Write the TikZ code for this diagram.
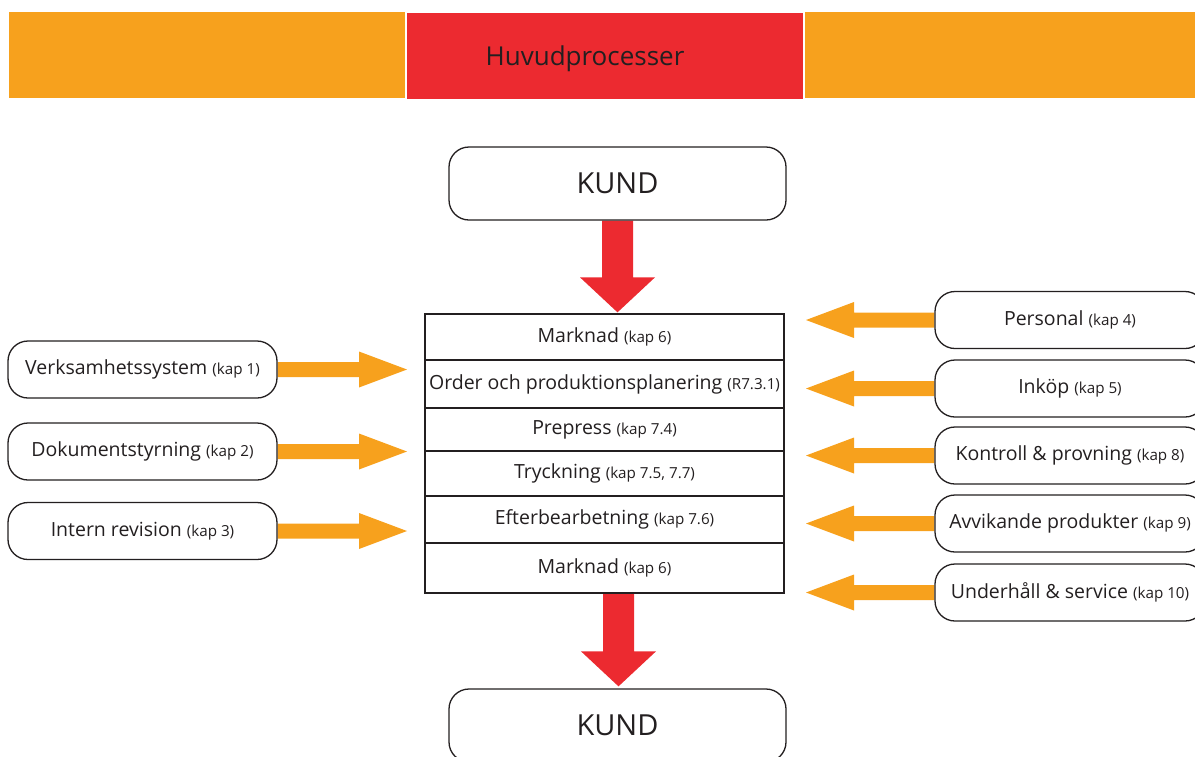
\documentclass[tikz,border=0pt]{standalone}
\usepackage{fontspec}
\setmainfont{Open Sans}
\usetikzlibrary{calc,backgrounds}
\definecolor{orangec}{HTML}{F7A11D}
\definecolor{redc}{HTML}{EC2A30}
\definecolor{ink}{HTML}{231F20}
\newcommand\kap[1]{{\fontsize{15.2}{17}\selectfont #1}}
\newcommand\mainsz{\fontsize{19.5}{22}\selectfont}
% horizontal block arrow: #1 start, #2 tip, #3 sign (- right, + left), #4 colour
\newcommand\hblock[4]{%
  \fill[#4] let \p1=(#1), \p2=(#2) in
   (\x1,\y1+7.5pt) -- (\x2#348pt,\y1+7.5pt) -- (\x2#348pt,\y1+18pt) -- (\x2,\y1)
   -- (\x2#348pt,\y1-18pt) -- (\x2#348pt,\y1-7.5pt) -- (\x1,\y1-7.5pt) -- cycle;}
% vertical block arrow downwards: #1 start, #2 tip
\newcommand\vblock[2]{%
  \fill[redc] let \p1=(#1), \p2=(#2) in
   (\x1-15.5pt,\y1) -- (\x1-15.5pt,\y2+35pt) -- (\x1-37.5pt,\y2+35pt) -- (\x1,\y2)
   -- (\x1+37.5pt,\y2+35pt) -- (\x1+15.5pt,\y2+35pt) -- (\x1+15.5pt,\y1) -- cycle;}
\tikzset{
  rbox/.style={draw=ink, line width=1.3pt, rounded corners=20pt, minimum width=269pt,
    minimum height=57pt, inner sep=0pt, fill=white, font=\mainsz},
  kund/.style={rbox, minimum width=337pt, minimum height=73pt, font=\fontsize{29}{34}\selectfont},
  row/.style={draw=ink, line width=1.3pt, minimum width=359pt, inner sep=0pt, fill=white, font=\mainsz},
}
\begin{document}
\begin{tikzpicture}[x=1pt,y=-1pt,text=ink]
\useasboundingbox (0,0) rectangle (1195,756);
\clip (0,0) rectangle (1195,756);
% header band
\fill[orangec] (9,12) rectangle (405,98);
\fill[redc] (407,13) rectangle (803,99);
\fill[orangec] (805,12) rectangle (1195,98);
\node[font=\fontsize{26}{30}\selectfont] (title) at (585,59) {Huvudprocesser};
% customer
\node[kund] (k1) at (617.5,183.5) {KUND};
\node[kund] (k2) at (617.5,725.5) {KUND};
% central process stack
\node[row, minimum height=46pt] (r1) at (604.5,337) {Marknad \kap{(kap 6)}};
\node[row, minimum height=48pt] (r2) at (604.5,384) {Order och produktionsplanering \kap{(R7.3.1)}};
\node[row, minimum height=43pt] (r3) at (604.5,429.5) {Prepress \kap{(kap 7.4)}};
\node[row, minimum height=45pt] (r4) at (604.5,473.5) {Tryckning \kap{(kap 7.5, 7.7)}};
\node[row, minimum height=47pt] (r5) at (604.5,519.5) {Efterbearbetning \kap{(kap 7.6)}};
\node[row, minimum height=50pt] (r6) at (604.5,568) {Marknad \kap{(kap 6)}};
% left support
\node[rbox] (v) at (142.5,369.5) {Verksamhetssystem \kap{(kap 1)}};
\node[rbox] (d) at (142.5,451.5) {Dokumentstyrning \kap{(kap 2)}};
\node[rbox] (i) at (142.5,531) {Intern revision \kap{(kap 3)}};
% right support
\node[rbox, minimum width=270pt] (p) at (1070,320) {Personal \kap{(kap 4)}};
\node[rbox, minimum width=270pt] (ik) at (1070,388.5) {Inköp \kap{(kap 5)}};
\node[rbox, minimum width=270pt] (kp) at (1070,455.5) {Kontroll \& provning \kap{(kap 8)}};
\node[rbox, minimum width=270pt] (ap) at (1070,523.5) {Avvikande produkter \kap{(kap 9)}};
\node[rbox, minimum width=270pt] (us) at (1070,592.5) {Underhåll \& service \kap{(kap 10)}};
% arrow tips
\coordinate (tv) at (407,369.5);
\coordinate (td) at (407,451.5);
\coordinate (ti) at (407,531);
\coordinate (tp) at (806,320);
\coordinate (tik) at (806,388.5);
\coordinate (tkp) at (806,455.5);
\coordinate (tap) at (806,523.5);
\coordinate (tus) at (806,592.5);
\coordinate (kin) at ($(k1.south |- r1.north)+(1,-1)$);
\coordinate (ks) at (k1.south);
\coordinate (kout) at ($(k1.south |- r6.south)+(1,0)$);
\coordinate (k2n) at ($(k2.north)+(1,-2)$);
\begin{scope}[on background layer]
\hblock{v.east}{tv}{-}{orangec}
\hblock{d.east}{td}{-}{orangec}
\hblock{i.east}{ti}{-}{orangec}
\hblock{p.west}{tp}{+}{orangec}
\hblock{ik.west}{tik}{+}{orangec}
\hblock{kp.west}{tkp}{+}{orangec}
\hblock{ap.west}{tap}{+}{orangec}
\hblock{us.west}{tus}{+}{orangec}
\vblock{ks}{kin}
\vblock{kout}{k2n}
\end{scope}
\end{tikzpicture}
\end{document}
